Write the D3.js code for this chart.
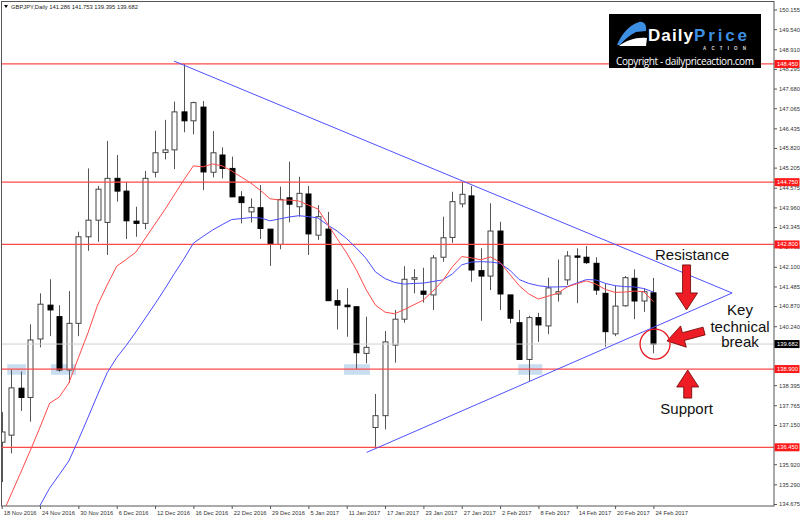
<!DOCTYPE html>
<html>
<head>
<meta charset="utf-8">
<script src="https://cdn.jsdelivr.net/npm/d3@7"></script>
<style>
  body { margin: 0; background: #fff; }
  svg { display: block; font-family: "Liberation Sans", Arial, sans-serif; }
</style>
</head>
<body>
<div id="chart"></div>
<script>
// GBPJPY daily bars, 18 Nov 2016 - 24 Feb 2017
const dates = [
  "2016-11-18","2016-11-21","2016-11-22","2016-11-23","2016-11-24","2016-11-25","2016-11-28","2016-11-29","2016-11-30",
  "2016-12-01","2016-12-02","2016-12-05","2016-12-06","2016-12-07","2016-12-08","2016-12-09","2016-12-12","2016-12-13",
  "2016-12-14","2016-12-15","2016-12-16","2016-12-19","2016-12-20","2016-12-21","2016-12-22","2016-12-23","2016-12-27",
  "2016-12-28","2016-12-29","2016-12-30","2017-01-03","2017-01-04","2017-01-05","2017-01-06","2017-01-09","2017-01-10",
  "2017-01-11","2017-01-12","2017-01-13","2017-01-16","2017-01-17","2017-01-18","2017-01-19","2017-01-20","2017-01-23",
  "2017-01-24","2017-01-25","2017-01-26","2017-01-27","2017-01-30","2017-01-31","2017-02-01","2017-02-02","2017-02-03",
  "2017-02-06","2017-02-07","2017-02-08","2017-02-09","2017-02-10","2017-02-13","2017-02-14","2017-02-15","2017-02-16",
  "2017-02-17","2017-02-20","2017-02-21","2017-02-22","2017-02-23","2017-02-24"
];
const open = [
  136.61,136.83,138.30,138.01,139.84,140.90,140.54,138.87,140.33,143.04,
  143.56,143.49,144.87,144.47,143.53,143.46,145.06,145.68,145.76,146.95,
  146.67,147.10,145.06,145.60,145.18,144.29,143.82,143.95,143.28,142.80,
  144.26,143.98,144.38,143.09,143.28,141.04,140.90,140.85,139.39,137.07,
  137.44,139.65,140.46,141.71,141.34,141.22,142.40,143.02,144.07,144.32,
  141.98,141.81,143.22,141.22,140.35,139.20,140.51,140.25,141.25,141.69,
  142.44,142.40,142.21,141.27,140.00,140.88,141.74,141.03,141.286
];
const high = [
  137.55,138.87,138.82,140.30,141.27,141.71,140.90,141.34,143.20,145.18,
  144.63,146.04,145.60,144.76,143.98,145.10,146.36,146.70,147.27,148.45,
  147.27,147.29,146.35,145.84,145.55,144.47,144.24,144.66,143.28,144.61,
  145.39,144.92,144.63,144.03,143.82,141.40,141.43,140.85,140.54,138.12,
  140.09,140.75,142.12,142.03,142.07,142.47,143.67,144.45,144.75,144.63,
  142.68,144.09,143.51,141.22,140.75,140.57,140.66,141.76,142.33,142.59,
  142.68,142.75,142.40,141.58,141.50,141.81,142.02,141.43,141.753
];
const low = [
  135.36,136.26,137.59,137.25,139.58,139.93,138.82,138.47,139.93,142.60,
  142.88,142.47,144.14,142.97,143.04,143.28,144.90,145.46,145.16,146.31,
  146.25,144.50,144.90,144.87,144.29,143.46,143.49,142.97,142.13,142.65,
  143.49,143.67,142.47,142.94,141.04,140.14,139.91,138.90,139.08,136.45,
  137.01,139.10,140.35,141.27,140.98,140.75,142.26,142.85,143.96,141.63,
  140.41,141.37,140.75,140.33,139.20,138.53,139.75,139.99,141.01,141.53,
  140.96,142.19,141.22,139.60,139.93,140.85,140.46,140.69,139.395
];
const close = [
  136.93,138.31,138.01,139.81,140.93,140.75,138.87,140.33,143.04,143.56,
  144.53,144.87,144.47,143.54,143.46,144.87,145.67,145.76,146.95,146.67,
  147.24,145.07,145.67,145.18,144.29,144.11,143.96,143.30,142.80,144.21,
  144.06,144.40,143.13,143.67,141.04,140.90,140.85,139.41,139.58,137.44,
  139.75,140.46,141.71,141.76,141.24,142.38,143.01,144.14,144.37,142.00,
  141.81,143.22,141.25,140.49,139.20,140.51,140.28,141.44,141.32,142.44,
  142.40,142.23,141.37,140.07,140.87,141.76,141.03,141.32,139.682
];
// moving averages (red = fast, blue = slow)
const maFast = [
  134.30,134.99,135.67,136.36,137.08,137.83,138.02,138.46,139.25,140.03,
  140.90,141.53,142.12,142.33,142.56,143.00,143.44,143.88,144.35,144.82,
  145.26,145.23,145.32,145.26,145.10,144.91,144.72,144.49,144.23,144.19,
  144.19,144.16,144.03,143.91,143.44,142.98,142.53,142.01,141.40,140.90,
  140.68,140.63,140.76,140.91,141.06,141.34,141.66,142.09,142.42,142.38,
  142.32,142.41,142.24,141.87,141.51,141.25,141.09,141.18,141.27,141.47,
  141.57,141.66,141.56,141.39,141.30,141.31,141.34,141.32,141.01
];
const maSlow = [
  132.61,133.11,133.61,134.11,134.63,135.17,135.59,136.02,136.68,137.38,
  138.09,138.78,139.26,139.64,140.06,140.50,140.94,141.40,141.88,142.34,
  142.84,143.05,143.25,143.42,143.58,143.61,143.64,143.63,143.54,143.60,
  143.66,143.70,143.67,143.63,143.41,143.22,142.98,142.69,142.37,141.94,
  141.73,141.61,141.56,141.58,141.59,141.64,141.69,141.87,142.16,142.25,
  142.26,142.25,142.21,142.00,141.70,141.58,141.51,141.47,141.47,141.48,
  141.59,141.70,141.69,141.58,141.51,141.48,141.47,141.42,141.31
];
// axis ticks (those fully covered by a price tag are left out)
const priceTicks = [
  150.155,149.540,148.910,148.295,147.680,147.065,146.435,145.820,145.205,
  144.575,143.960,143.345,142.730,142.100,141.485,140.870,140.240,
  138.395,137.765,137.150,135.920,135.290,134.675
];
const dateTickIdx = [0,4,8,12,16,20,24,28,32,36,40,44,48,52,56,60,64,68];
const levels = [148.450, 144.750, 142.800, 138.900, 136.450];
const lastPrice = 139.682;
// support touches highlighted at 138.900 (bar index ranges)
const touchFrom = [0.58, 5.14, 35.72, 53.9];
const touchTo   = [2.54, 7.75, 38.43, 56.4];

const W = 800, H = 519;
const PL = 2, PT = 2, PR = 774, PB = 506;

const parse = d3.timeParse("%Y-%m-%d");
const fmtDate = d3.timeFormat("%-d %b %Y");

const x = d3.scaleLinear().domain([0, 68]).range([1.7, 653.4]);
const y = d3.scaleLinear().domain([134.675, 150.155]).range([504, 9.5]);

const svg = d3.select("#chart").append("svg")
  .attr("width", W).attr("height", H);

svg.append("clipPath").attr("id", "plot")
  .append("rect").attr("x", PL).attr("y", PT).attr("width", PR - PL).attr("height", PB - PT);

const plot = svg.append("g").attr("clip-path", "url(#plot)");

// support touch boxes
plot.selectAll("rect.touch").data(touchFrom).enter().append("rect")
  .attr("class", "touch")
  .attr("x", (d) => x(d))
  .attr("width", (d, i) => x(touchTo[i]) - x(d))
  .attr("y", y(139.05))
  .attr("height", y(138.72) - y(139.05))
  .attr("fill", "#c9ddf0");

// candles
const bars = plot.selectAll("g.bar").data(d3.range(dates.length)).enter().append("g");
bars.append("line")
  .attr("x1", (i) => Math.round(x(i)) + 0.5)
  .attr("x2", (i) => Math.round(x(i)) + 0.5)
  .attr("y1", (i) => y(high[i]))
  .attr("y2", (i) => y(low[i]))
  .attr("stroke", "#555").attr("stroke-width", 1);
bars.append("rect")
  .attr("x", (i) => Math.round(x(i)) - 2)
  .attr("width", 5)
  .attr("y", (i) => y(Math.max(open[i], close[i])))
  .attr("height", (i) => Math.max(1, Math.abs(y(open[i]) - y(close[i]))))
  .attr("fill", (i) => close[i] >= open[i] ? "#fff" : "#000")
  .attr("stroke", (i) => close[i] >= open[i] ? "#444" : "#000")
  .attr("stroke-width", 1);

// horizontal levels
plot.append("line")
  .attr("x1", PL).attr("x2", PR)
  .attr("y1", y(lastPrice)).attr("y2", y(lastPrice))
  .attr("stroke", "#cfcfcf").attr("stroke-width", 1);
plot.selectAll("line.level").data(levels).enter().append("line")
  .attr("x1", PL).attr("x2", PR)
  .attr("y1", (d) => y(d)).attr("y2", (d) => y(d))
  .attr("stroke", "#ff4a4a").attr("stroke-width", 1.3);

// moving averages
const ma = d3.line().x((d, i) => x(i)).y((d) => y(d));
plot.append("path").datum(maSlow).attr("d", ma)
  .attr("fill", "none").attr("stroke", "#4b4bff").attr("stroke-width", 1);
plot.append("path").datum(maFast).attr("d", ma)
  .attr("fill", "none").attr("stroke", "#ff4a4a").attr("stroke-width", 1);

// triangle trendlines (bar index, price)
const apex = [76.21, 141.28];
const trend = [[[17.98, 148.54], apex], [[38.09, 136.29], apex]];
plot.selectAll("line.trend").data(trend).enter().append("line")
  .attr("x1", (d) => x(d[0][0])).attr("y1", (d) => y(d[0][1]))
  .attr("x2", (d) => x(d[1][0])).attr("y2", (d) => y(d[1][1]))
  .attr("stroke", "#5050ff").attr("stroke-width", 1);

// red annotation arrows
function arrow(x0, y0, x1, y1, shaft, headLen, headW) {
  const dx = x1 - x0, dy = y1 - y0, L = Math.hypot(dx, dy);
  const ux = dx / L, uy = dy / L, nx = -uy, ny = ux;
  const bx = x1 - ux * headLen, by = y1 - uy * headLen;
  const p = [
    [x0 + nx * shaft, y0 + ny * shaft], [bx + nx * shaft, by + ny * shaft],
    [bx + nx * headW, by + ny * headW], [x1, y1],
    [bx - nx * headW, by - ny * headW], [bx - nx * shaft, by - ny * shaft],
    [x0 - nx * shaft, y0 - ny * shaft]
  ];
  return "M" + p.map((q) => q.join(",")).join("L") + "Z";
}
const arrows = [
  [71.46, 142.16, 71.46, 140.75],
  [73.29, 140.09, 69.42, 139.78],
  [71.58, 137.99, 71.58, 138.87]
];
plot.selectAll("path.arrow").data(arrows).enter().append("path")
  .attr("d", (a) => arrow(x(a[0]), y(a[1]), x(a[2]), y(a[3]), 4, 17, 11))
  .attr("fill", "#ee1c24").attr("stroke", "#6a0000").attr("stroke-width", 0.8);

plot.append("circle")
  .attr("cx", x(68.17)).attr("cy", y(139.68)).attr("r", 15)
  .attr("fill", "none").attr("stroke", "#e8141e").attr("stroke-width", 1.3);

const note = plot.append("g").attr("font-size", 15).attr("fill", "#111");
note.append("text").attr("x", x(68.17)).attr("y", y(142.31)).text("Resistance");
note.append("text").attr("x", x(77.04)).attr("y", y(140.59)).attr("text-anchor", "middle").text("Key");
note.append("text").attr("x", x(77.04)).attr("y", y(140.07)).attr("text-anchor", "middle").text("technical");
note.append("text").attr("x", x(77.04)).attr("y", y(139.59)).attr("text-anchor", "middle").text("break");
note.append("text").attr("x", x(71.46)).attr("y", y(137.49)).attr("text-anchor", "middle").text("Support");

// logo
const logo = svg.append("g");
logo.append("rect").attr("x", 609).attr("y", 14).attr("width", 152).attr("height", 54).attr("fill", "#000");
logo.append("path")
  .attr("d", "M617,45 C621,36 627,26 639,22 C644,21 647,25 646,31 L636,32 C630,35 624,40 620,45 Z")
  .attr("fill", "#3d8fe3");
logo.append("path")
  .attr("d", "M619,46 C627,40 636,37 647,38 L646,46 Z")
  .attr("fill", "#fff");
logo.append("text").attr("x", 648).attr("y", 41).attr("font-size", 17).attr("font-weight", "bold")
  .attr("fill", "#fff").attr("textLength", 45).text("Daily");
logo.append("text").attr("x", 694).attr("y", 41).attr("font-size", 17).attr("font-weight", "bold")
  .attr("fill", "#3d8fe3").attr("textLength", 53).text("Price");
logo.append("text").attr("x", 703).attr("y", 49.5).attr("font-size", 4.5).attr("font-weight", "bold")
  .attr("fill", "#ddd").attr("textLength", 43).text("ACTION");
logo.append("text").attr("x", 616).attr("y", 64.5).attr("font-size", 10)
  .attr("font-family", "'Open Sans', sans-serif")
  .attr("fill", "#fff").attr("textLength", 138).text("Copyright - dailypriceaction.com");

// frame
svg.append("rect").attr("x", 1.5).attr("y", 1.5).attr("width", PR - 1.5).attr("height", PB - 1.5)
  .attr("fill", "none").attr("stroke", "#555").attr("stroke-width", 1);

// price axis
const yAxis = svg.append("g").attr("transform", `translate(${PR},0)`)
  .call(d3.axisRight(y).tickValues(priceTicks).tickSize(3).tickPadding(2).tickFormat(d3.format(".3f")));
yAxis.select(".domain").remove();
yAxis.selectAll("line").attr("stroke", "#555");
yAxis.selectAll("text").attr("font-size", 5.8).attr("fill", "#333").attr("font-family", "'Liberation Sans', Arial, sans-serif");

// date axis
const xAxis = svg.append("g").attr("transform", `translate(0,${PB})`)
  .call(d3.axisBottom(x).tickValues(dateTickIdx).tickSize(3).tickPadding(1.5)
    .tickFormat((i) => fmtDate(parse(dates[i]))));
xAxis.select(".domain").remove();
xAxis.selectAll("line").attr("stroke", "#555");
xAxis.selectAll("text").attr("font-size", 5.8).attr("fill", "#333")
  .attr("text-anchor", "start").attr("dx", 1.5)
  .attr("font-family", "'Liberation Sans', Arial, sans-serif");

// price labels on the axis
const tags = svg.append("g");
const tagData = levels.map((d) => [d, "#ff1a1a"]).concat([[lastPrice, "#000"]]);
tags.selectAll("rect").data(tagData).enter().append("rect")
  .attr("x", PR + 0.5).attr("y", (d) => y(d[0]) - 4).attr("width", 25).attr("height", 8)
  .attr("fill", (d) => d[1]);
tags.selectAll("text").data(tagData).enter().append("text")
  .attr("x", PR + 3).attr("y", (d) => y(d[0]) + 2)
  .attr("font-size", 5.8).attr("fill", "#fff")
  .text((d) => d3.format(".3f")(d[0]));

// header
svg.append("path").attr("d", "M4,5 L8,5 L6,8 Z").attr("fill", "#000");
svg.append("text").attr("x", 11).attr("y", 9).attr("font-size", 5.8).attr("fill", "#222")
  .text("GBPJPY,Daily  141.286 141.753 139.395 139.682");
</script>
</body>
</html>
